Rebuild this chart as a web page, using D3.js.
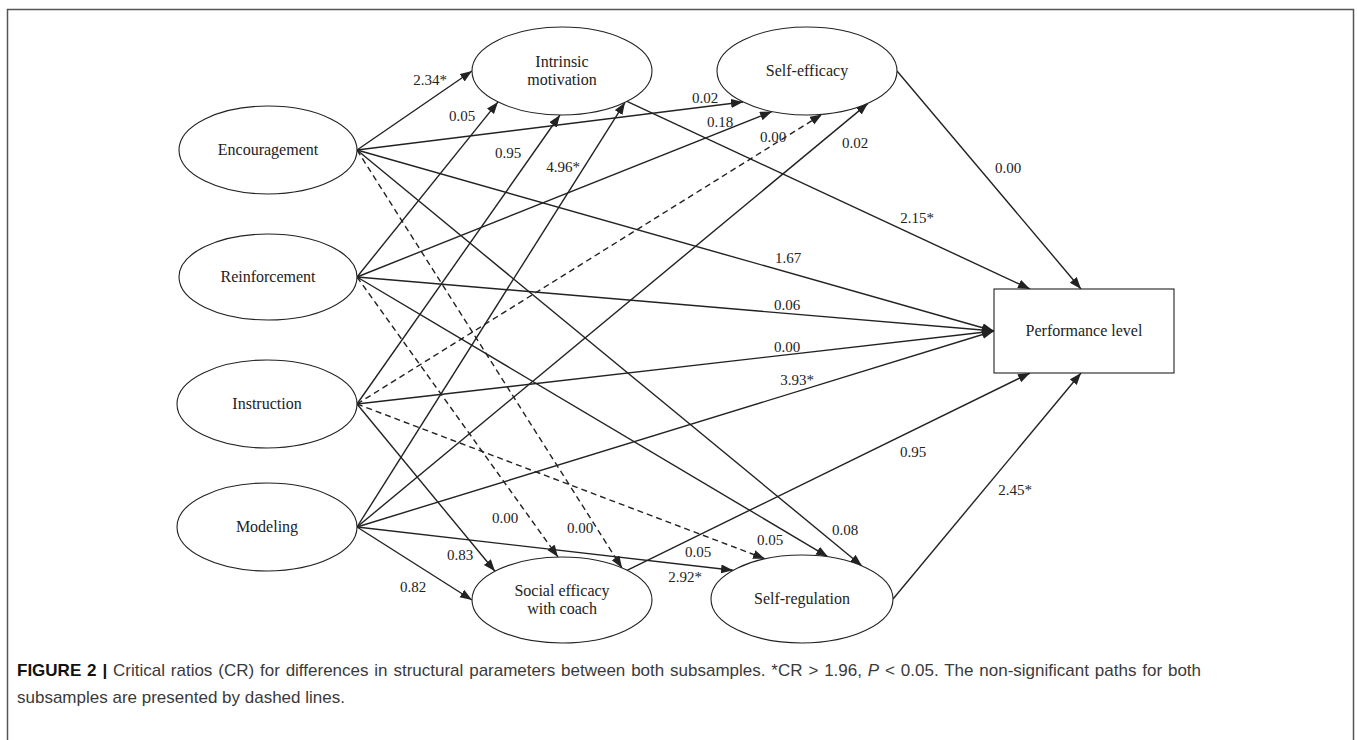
<!DOCTYPE html>
<html>
<head>
<meta charset="utf-8">
<script src="https://cdn.jsdelivr.net/npm/d3@7"></script>
<style>
  body { margin: 0; background: #fff; }
  svg { display: block; }
</style>
</head>
<body>
<svg id="fig" width="1357" height="740"></svg>
<script>
// Path model nodes
const predictors = ["Encouragement", "Reinforcement", "Instruction", "Modeling"];
const mediators = ["Intrinsic motivation", "Self-efficacy", "Social efficacy with coach", "Self-regulation"];
const outcome = "Performance level";

// Structural paths: source, target, critical ratio, dashed = non-significant in both subsamples
const pathFrom = [
    "Encouragement", "Encouragement", "Encouragement", "Encouragement", "Encouragement",
    "Reinforcement", "Reinforcement", "Reinforcement", "Reinforcement", "Reinforcement",
    "Instruction", "Instruction", "Instruction", "Instruction", "Instruction",
    "Modeling", "Modeling", "Modeling", "Modeling", "Modeling",
    "Intrinsic motivation", "Self-efficacy", "Social efficacy with coach", "Self-regulation"
];
const pathTo = [
    "Intrinsic motivation", "Self-efficacy", "Performance level", "Social efficacy with coach", "Self-regulation",
    "Intrinsic motivation", "Self-efficacy", "Performance level", "Social efficacy with coach", "Self-regulation",
    "Intrinsic motivation", "Self-efficacy", "Performance level", "Social efficacy with coach", "Self-regulation",
    "Intrinsic motivation", "Self-efficacy", "Performance level", "Social efficacy with coach", "Self-regulation",
    "Performance level", "Performance level", "Performance level", "Performance level"
];
const pathCR = [
    2.34, 0.02, 1.67, 0.00, 0.08,
    0.05, 0.18, 0.06, 0.00, 2.92,
    0.95, 0.00, 0.00, 0.83, 0.05,
    4.96, 0.02, 3.93, 0.82, 0.05,
    2.15, 0.00, 0.95, 2.45
];
const pathDashed = [
    false, false, false, true, false,
    false, false, false, true, false,
    false, true, false, false, true,
    false, false, false, false, false,
    false, false, false, false
];
const crCutoff = 1.96;

// ---- layout (pixels) ----
const shapes = {
    "Encouragement":              { cx: 268, cy: 150, rx: 89, ry: 44 },
    "Reinforcement":              { cx: 268, cy: 277, rx: 89, ry: 43 },
    "Instruction":                { cx: 267, cy: 404, rx: 90, ry: 44 },
    "Modeling":                   { cx: 267, cy: 527, rx: 90, ry: 44 },
    "Intrinsic motivation":       { cx: 562, cy: 71,  rx: 90, ry: 44 },
    "Self-efficacy":              { cx: 807, cy: 71,  rx: 90, ry: 44 },
    "Social efficacy with coach": { cx: 562, cy: 600, rx: 90, ry: 43 },
    "Self-regulation":            { cx: 802, cy: 599, rx: 91, ry: 44 },
    "Performance level":          { x: 994, y: 289, w: 180, h: 84 }
};
const nodeLines = {
    "Intrinsic motivation": ["Intrinsic", "motivation"],
    "Social efficacy with coach": ["Social efficacy", "with coach"]
};

// where each path leaves / enters its shape: [dx from centre (or rect left), side: -1 top, 1 bottom, 0 tip]
const pathStart = [
    [89, 0], [89, 0], [89, 0], [89, 0], [89, 0],
    [89, 0], [89, 0], [89, 0], [89, 0], [89, 0],
    [90, 0], [90, 0], [90, 0], [90, 0], [90, 0],
    [90, 0], [90, 0], [90, 0], [90, 0], [90, 0],
    [65, 1], [90, 0], [65, -1], [91, 0]
];
const pathEnd = [
    [-90, 0], [-64, 1], [0, 0], [60, -1], [60, -1],
    [-64, 1], [-35, 1], [0, 0], [-4, -1], [26, -1],
    [-2, 1], [15, 1], [0, 0], [-67, -1], [-37, -1],
    [63, 1], [61, 1], [0, 0], [-90, 0], [-69, -1],
    [36, -1], [87, -1], [36, 1], [87, 1]
];
const labelPos = [
    [430, 80], [705, 98], [788, 258], [580, 528], [845, 530],
    [462, 116], [720, 122], [787, 305], [505, 518], [685, 577],
    [508, 153], [773, 137], [787, 347], [460, 555], [770, 540],
    [563, 167], [855, 143], [797, 380], [413, 587], [698, 552],
    [917, 218], [1008, 168], [913, 452], [1015, 490]
];

const ink = "#222";
const serif = "'Liberation Serif', 'Times New Roman', serif";

function anchor(name, dx, side) {
    const s = shapes[name];
    if (s.w !== undefined) {
        if (side === 0) return [s.x, s.y + s.h / 2];
        return [s.x + dx, side < 0 ? s.y : s.y + s.h];
    }
    if (side === 0) return [s.cx + dx, s.cy];
    const t = Math.sqrt(Math.max(0, 1 - (dx / s.rx) * (dx / s.rx)));
    return [s.cx + dx, s.cy + side * s.ry * t];
}

const svg = d3.select("#fig");

// outer frame
svg.append("rect")
    .attr("x", 7.5).attr("y", 9.5)
    .attr("width", 1346).attr("height", 760)
    .attr("fill", "none")
    .attr("stroke", "#555")
    .attr("stroke-width", 1.5);

svg.append("defs").append("marker")
    .attr("id", "head")
    .attr("markerUnits", "userSpaceOnUse")
    .attr("markerWidth", 13).attr("markerHeight", 10)
    .attr("refX", 12).attr("refY", 4.5)
    .attr("orient", "auto")
    .append("path")
    .attr("d", "M0,0L12,4.5L0,9Z")
    .attr("fill", ink);

// paths
const paths = pathCR.map((cr, i) => {
    const a = anchor(pathFrom[i], pathStart[i][0], pathStart[i][1]);
    const b = anchor(pathTo[i], pathEnd[i][0], pathEnd[i][1]);
    return { x1: a[0], y1: a[1], x2: b[0], y2: b[1], cr, dashed: pathDashed[i],
             lx: labelPos[i][0], ly: labelPos[i][1] };
});

svg.append("g")
    .selectAll("line")
    .data(paths)
    .join("line")
    .attr("x1", d => d.x1).attr("y1", d => d.y1)
    .attr("x2", d => d.x2).attr("y2", d => d.y2)
    .attr("stroke", ink)
    .attr("stroke-width", 1.4)
    .attr("stroke-dasharray", d => d.dashed ? "6,4" : null)
    .attr("marker-end", "url(#head)");

// ellipses
const allNodes = predictors.concat(mediators);
const ell = svg.append("g")
    .selectAll("g")
    .data(allNodes)
    .join("g");

ell.append("ellipse")
    .attr("cx", d => shapes[d].cx).attr("cy", d => shapes[d].cy)
    .attr("rx", d => shapes[d].rx).attr("ry", d => shapes[d].ry)
    .attr("fill", "#fff")
    .attr("stroke", ink)
    .attr("stroke-width", 1.1);

ell.each(function(d) {
    const lines = nodeLines[d] || [d];
    const s = shapes[d];
    const t = d3.select(this).append("text")
        .attr("text-anchor", "middle")
        .attr("font-family", serif)
        .attr("font-size", 16)
        .attr("fill", ink);
    lines.forEach((ln, k) => {
        t.append("tspan")
            .attr("x", s.cx)
            .attr("y", s.cy + (k - (lines.length - 1) / 2) * 18 + 5)
            .text(ln);
    });
});

// outcome box
const pb = shapes[outcome];
svg.append("rect")
    .attr("x", pb.x).attr("y", pb.y)
    .attr("width", pb.w).attr("height", pb.h)
    .attr("fill", "#fff")
    .attr("stroke", ink)
    .attr("stroke-width", 1.1);
svg.append("text")
    .attr("x", pb.x + pb.w / 2).attr("y", pb.y + pb.h / 2 + 5)
    .attr("text-anchor", "middle")
    .attr("font-family", serif)
    .attr("font-size", 16)
    .attr("fill", ink)
    .text(outcome);

// CR labels
svg.append("g")
    .selectAll("text")
    .data(paths)
    .join("text")
    .attr("x", d => d.lx).attr("y", d => d.ly + 5)
    .attr("text-anchor", "middle")
    .attr("font-family", serif)
    .attr("font-size", 15)
    .attr("fill", ink)
    .text(d => d.cr.toFixed(2) + (d.cr > crCutoff ? "*" : ""));

// caption (first line justified to the column width)
const sans = "'Liberation Sans', Arial, Helvetica, sans-serif";
const capLeft = 17, capRight = 1201, capSize = 17;
const cap1 = svg.append("text")
    .attr("x", capLeft).attr("y", 676)
    .attr("font-family", sans)
    .attr("font-size", capSize)
    .attr("fill", "#3a3a3a");
cap1.append("tspan").attr("font-weight", "bold").attr("fill", "#111").text("FIGURE 2 | ");
cap1.append("tspan").text("Critical ratios (CR) for differences in structural parameters between both subsamples. *CR > 1.96, ");
cap1.append("tspan").attr("font-style", "italic").text("P");
cap1.append("tspan").text(" < 0.05. The non-significant paths for both");

const natural = cap1.node().getComputedTextLength();
const gaps = (cap1.text().match(/ /g) || []).length;
cap1.attr("word-spacing", Math.max(0, (capRight - capLeft - natural) / gaps));

svg.append("text")
    .attr("x", capLeft).attr("y", 703)
    .attr("font-family", sans)
    .attr("font-size", capSize)
    .attr("fill", "#3a3a3a")
    .text("subsamples are presented by dashed lines.");
</script>
</body>
</html>
